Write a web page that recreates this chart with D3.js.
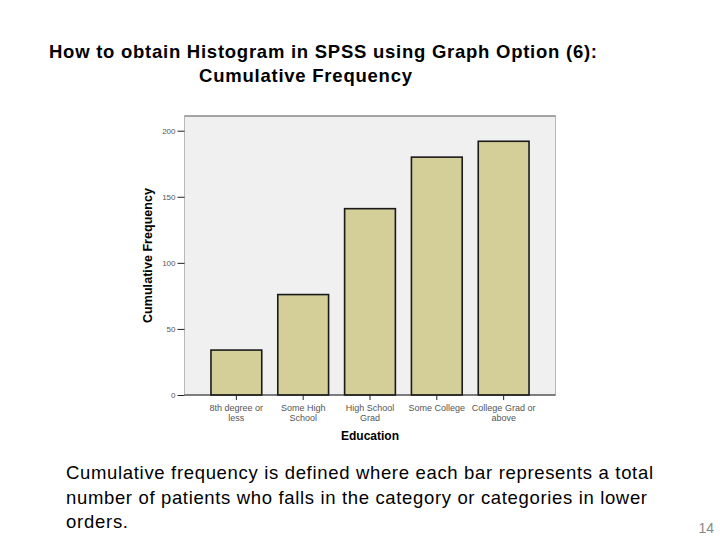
<!DOCTYPE html>
<html><head><meta charset="utf-8">
<script src="https://cdn.jsdelivr.net/npm/d3@7"></script>
<style>body{margin:0;background:#fff}svg{display:block}</style>
</head><body>
<svg id="c" width="720" height="540"></svg>
<script>
const categories = [["8th degree or","less"],["Some High","School"],["High School","Grad"],["Some College"],["College Grad or","above"]];
const values = [34, 76, 141, 180, 192];
const yTicks = [0, 50, 100, 150, 200];
const titleLines = ["How to obtain Histogram in SPSS using Graph Option (6):", "Cumulative Frequency"];
const bodyLines = ["Cumulative frequency is defined where each bar represents a total",
  "number of patients who falls in the category or categories in lower", "orders."];

const svg = d3.select("#c");
const font = "Liberation Sans, Arial, sans-serif";
const L = 184.5, R = 555.5, T = 116, B = 395;
const x = d3.scaleBand().domain(d3.range(values.length)).range([L, R]).paddingInner(0.24).paddingOuter(0.396);
const y = d3.scaleLinear().domain([0, 200]).range([B, 130.7]);

// title
const titleW = [548, 213], titleX = [49, 199];
titleLines.forEach((ln, i) => svg.append("text").attr("x", titleX[i]).attr("y", 58 + i*24)
  .attr("font-family", font).attr("font-weight", "bold").attr("font-size", 18.5)
  .attr("textLength", titleW[i]).attr("lengthAdjust","spacing").text(ln));

// plot bg
svg.append("rect").attr("x", L).attr("y", T).attr("width", R - L).attr("height", B - T)
  .attr("fill", "#f0f0f0").attr("stroke", "#b8b8b8").attr("stroke-width", 1);
svg.append("line").attr("x1", L).attr("x2", R).attr("y1", T).attr("y2", T).attr("stroke", "#555").attr("stroke-width", 0.8);

// bars
svg.selectAll("rect.bar").data(values).join("rect").attr("class","bar")
  .attr("x", (d,i) => x(i)).attr("width", x.bandwidth())
  .attr("y", d => y(d)).attr("height", d => B - y(d))
  .attr("fill", "#d4cf98").attr("stroke", "#1a1a1a").attr("stroke-width", 1.6);

// y axis
const ya = svg.append("g").attr("transform", `translate(${L},0)`)
  .call(d3.axisLeft(y).tickValues(yTicks).tickSize(7).tickPadding(2));
ya.select(".domain").remove();
ya.selectAll(".tick line").attr("stroke", "#222");
ya.selectAll(".tick text").attr("font-family", font).attr("font-size", 8).attr("fill", "#555");

// x axis
const xa = svg.append("g").attr("transform", `translate(0,${B})`)
  .call(d3.axisBottom(x).tickSize(5).tickFormat(""));
xa.select(".domain").attr("d", `M${L},0H${R}`).attr("stroke", "#222");
xa.selectAll(".tick line").attr("stroke", "#222");
categories.forEach((lines, i) => {
  const t = svg.append("text").attr("text-anchor", "middle").attr("font-family", font)
    .attr("font-size", 9).attr("fill", "#555");
  lines.forEach((ln, j) => t.append("tspan").attr("x", x(i) + x.bandwidth()/2).attr("y", 411 + j*10).text(ln));
});

// axis titles
svg.append("text").attr("x", 370).attr("y", 440).attr("text-anchor","middle").attr("font-family", font)
  .attr("font-weight","bold").attr("font-size", 12).text("Education");
svg.append("text").attr("transform", "translate(152,255.5) rotate(-90)").attr("text-anchor","middle")
  .attr("font-family", font).attr("font-weight","bold").attr("font-size", 12.5)
  .attr("textLength", 135).attr("lengthAdjust","spacing").text("Cumulative Frequency");

// body
const bodyW = [587, 581, 62];
bodyLines.forEach((ln, i) => svg.append("text").attr("x", 66).attr("y", 479 + i*24.5)
  .attr("font-family", font).attr("font-size", 18.5)
  .attr("textLength", bodyW[i]).attr("lengthAdjust","spacing").text(ln));
svg.append("text").attr("x", 714).attr("y", 533).attr("text-anchor","end").attr("font-family", font)
  .attr("font-size", 14).attr("fill", "#888").text("14");
</script>
</body></html>
